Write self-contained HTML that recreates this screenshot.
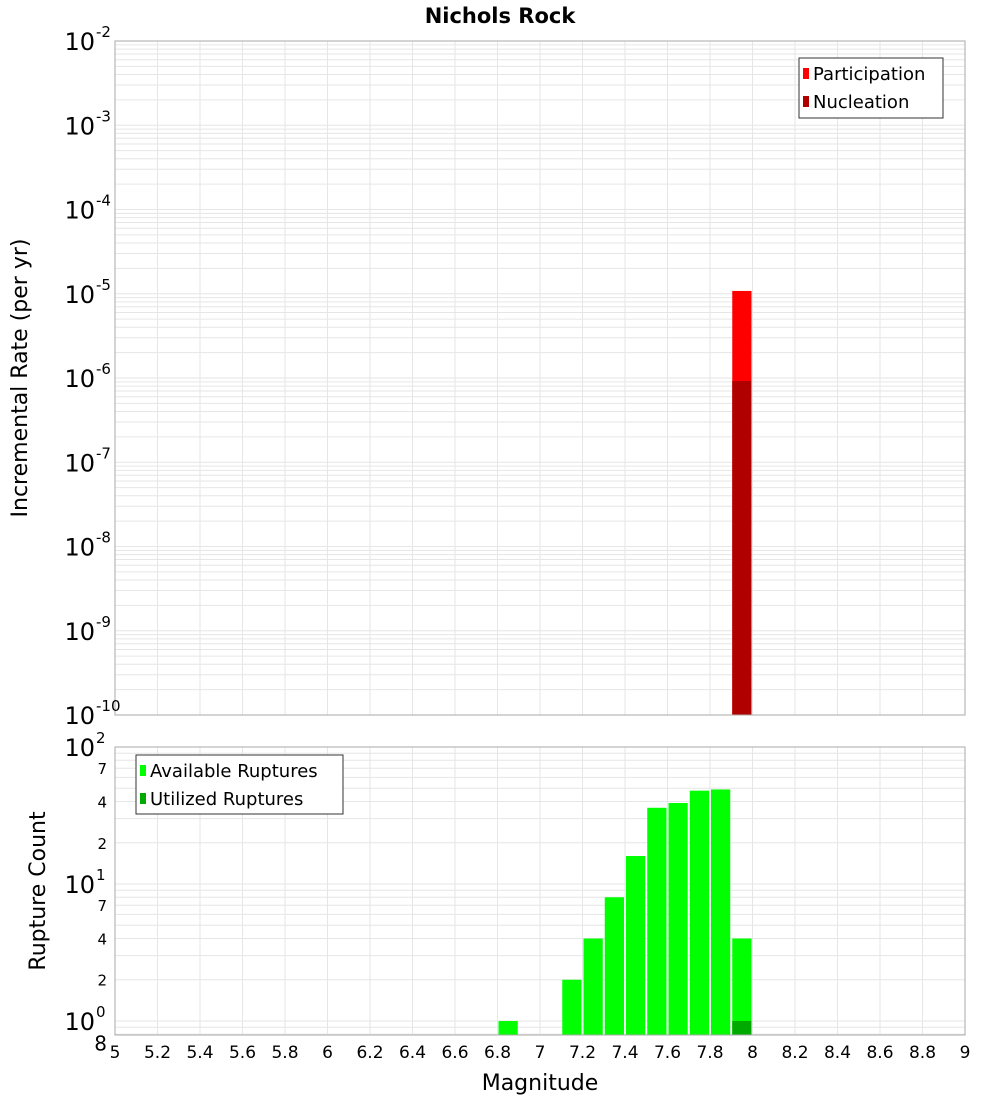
<!DOCTYPE html>
<html><head><meta charset="utf-8"><style>
body{margin:0;background:#fff;font-family:"Liberation Sans","DejaVu Sans",sans-serif}
svg text{font-family:"DejaVu Sans","Liberation Sans",sans-serif}
</style></head><body>
<svg id="chart" width="1000" height="1100" xmlns="http://www.w3.org/2000/svg">
<text x="500" y="23" text-anchor="middle" font-size="21" font-weight="bold">Nichols Rock</text>
<text transform="translate(27,378) rotate(-90)" text-anchor="middle" font-size="22">Incremental Rate (per yr)</text>
<text transform="translate(45,891) rotate(-90)" text-anchor="middle" font-size="22">Rupture Count</text>
<text x="540" y="1090" text-anchor="middle" font-size="22">Magnitude</text>
<g id="grid"></g><g id="marks"></g><g id="axes"></g>
<g>
<rect x="799" y="58" width="144" height="60" fill="#fff" stroke="#333"/>
<rect x="803" y="68" width="6" height="11" fill="#ff0000"/>
<text x="813" y="80" font-size="18">Participation</text>
<rect x="803" y="96" width="6" height="11" fill="#b00000"/>
<text x="813" y="108" font-size="18">Nucleation</text>
</g>
<g>
<rect x="136" y="755" width="207" height="59" fill="#fff" stroke="#333"/>
<rect x="140" y="765" width="6" height="11" fill="#00ff00"/>
<text x="150" y="777" font-size="18">Available Ruptures</text>
<rect x="140" y="793" width="6" height="11" fill="#00aa00"/>
<text x="150" y="805" font-size="18">Utilized Ruptures</text>
</g>
</svg>
<script>
const magBins=[7.9];
const participation=[1.08e-5];
const nucleation=[9.2e-7];
const countBins=[6.8,7.1,7.2,7.3,7.4,7.5,7.6,7.7,7.8,7.9];
const available=[1,2,4,8,16,36,39,48,49,4];
const utilizedBins=[7.9];
const utilized=[1];
const xTicks=[5,5.2,5.4,5.6,5.8,6,6.2,6.4,6.6,6.8,7,7.2,7.4,7.6,7.8,8,8.2,8.4,8.6,8.8,9];
const topExps=[-2,-3,-4,-5,-6,-7,-8,-9,-10];
const botMinor=[2,4,7];

const NS="http://www.w3.org/2000/svg";
const X0=115,X1=965,xmin=5,xmax=9;
const xs=v=>X0+(v-xmin)/(xmax-xmin)*(X1-X0);
const T0=41,T1=715,tmax=-2,tmin=-10;
const ty=v=>T0+(tmax-Math.log10(v))/(tmax-tmin)*(T1-T0);
const B0=747,B1=1035,bmax=2,bmin=Math.log10(0.79);
const by=v=>B0+(bmax-Math.log10(v))/(bmax-bmin)*(B1-B0);
function el(tag,attrs,parent,txt){const e=document.createElementNS(NS,tag);for(const k in attrs)e.setAttribute(k,attrs[k]);if(txt!==undefined)e.textContent=txt;document.getElementById(parent).appendChild(e);return e;}

// grids
for(const t of xTicks){
 for(const [a,b] of [[T0,T1],[B0,B1]]){const l=el('line',{x1:xs(t),x2:xs(t),y1:a,y2:b,stroke:'#e6e6e6'},'grid');
 }
}
for(let e=-10;e<-2;e++)for(let m=1;m<10;m++){const v=m*Math.pow(10,e);const y=ty(v);
 const l=el('line',{x1:X0,x2:X1,y1:y,y2:y,stroke:'#e6e6e6'},'grid');
 }
for(let e=-1;e<2;e++)for(let m=1;m<10;m++){const v=m*Math.pow(10,e);if(v<0.79)continue;const y=by(v);
 const l=el('line',{x1:X0,x2:X1,y1:y,y2:y,stroke:'#e6e6e6'},'grid');
 }

// bars
const W=0.1;
magBins.forEach((m,i)=>{
 let r=el('rect',{x:xs(m)+1,y:ty(participation[i]),width:xs(m+W)-xs(m)-2,height:T1-ty(participation[i]),fill:'#ff0000'},'marks');
 
 r=el('rect',{x:xs(m)+1,y:ty(nucleation[i]),width:xs(m+W)-xs(m)-2,height:T1-ty(nucleation[i]),fill:'#b00000'},'marks');
 
});
countBins.forEach((m,i)=>{
 const r=el('rect',{x:xs(m)+1,y:by(available[i]),width:xs(m+W)-xs(m)-2,height:B1-by(available[i]),fill:'#00ff00'},'marks');
 
});
utilizedBins.forEach((m,i)=>{
 const r=el('rect',{x:xs(m)+1,y:by(utilized[i]),width:xs(m+W)-xs(m)-2,height:B1-by(utilized[i]),fill:'#00aa00'},'marks');
 
});

// frames
let f=el('rect',{x:X0,y:T0,width:X1-X0,height:T1-T0,fill:'none',stroke:'#aaa'},'axes');

f=el('rect',{x:X0,y:B0,width:X1-X0,height:B1-B0,fill:'none',stroke:'#aaa'},'axes');


// x tick labels
for(const t of xTicks){const s=el('text',{x:xs(t),y:1058,'text-anchor':'middle','font-size':17},'axes',String(t));
 }
// top y labels
for(const e of topExps){const y=ty(Math.pow(10,e));
 const g=el('text',{x:95,y:y+9,'text-anchor':'end','font-size':24},'axes','10');
 
 const s=el('text',{x:96,y:y-4,'font-size':15},'axes',String(e));
 }
// bottom y labels
for(const e of [2,1,0]){const y=by(Math.pow(10,e));
 const g=el('text',{x:95,y:y+9,'text-anchor':'end','font-size':24},'axes','10');
 
 const s=el('text',{x:96,y:y-4,'font-size':15},'axes',String(e));
 }
for(let e=0;e<2;e++)for(const m of botMinor){const y=by(m*Math.pow(10,e));
 const s=el('text',{x:107,y:y+6,'text-anchor':'end','font-size':15},'axes',String(m));
 }
const s8=el('text',{x:107,y:by(0.8)+16,'text-anchor':'end','font-size':20},'axes','8');

</script>
</body></html>
